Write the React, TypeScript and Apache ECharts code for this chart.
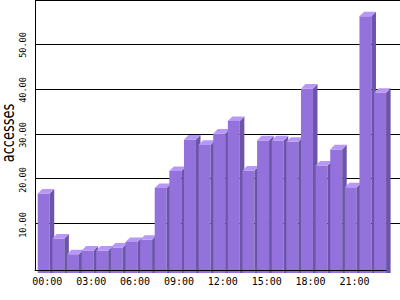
import React, { useEffect, useRef } from "react";
import * as echarts from "echarts";

const hours = [
  "00:00", "01:00", "02:00", "03:00", "04:00", "05:00", "06:00", "07:00",
  "08:00", "09:00", "10:00", "11:00", "12:00", "13:00", "14:00", "15:00",
  "16:00", "17:00", "18:00", "19:00", "20:00", "21:00", "22:00", "23:00",
];
const accesses = [
  17, 7, 3.5, 4.3, 4.3, 5, 6.2, 6.7,
  18.2, 22, 29, 27.8, 30.3, 33.1, 22.1, 28.8,
  28.8, 28.5, 40.3, 23.2, 26.8, 18.4, 56.4, 39.4,
];
const yTitle = "accesses";

const FRONT = "#9372DC";
const SIDE = "#6C55A8";
const TOP = "#B898F6";

export default function App() {
  const ref = useRef<HTMLDivElement>(null);
  useEffect(() => {
    if (!ref.current) return;
    document.body.style.margin = "0";
    const chart = echarts.init(ref.current, null, { renderer: "svg" });
    const mono = '"DejaVu Sans Mono", monospace';
    chart.setOption({
      animation: false,
      grid: [
        { left: 35, top: -12, width: 351, height: 282 },
        { left: 35, top: -12, width: 365, height: 235 },
      ],
      xAxis: [
        {
          type: "category",
          gridIndex: 0,
          data: hours,
          z: 5,
          axisLine: { show: true, lineStyle: { color: "#000", width: 1 } },
          axisTick: { show: false },
          axisLabel: {
            interval: 2,
            color: "#000",
            fontFamily: mono,
            fontSize: 10,
            margin: 6,
            padding: [0, 0, 0, 10],
          },
          splitLine: { show: false },
        },
        { type: "category", gridIndex: 1, data: hours, show: false },
      ],
      yAxis: [
        {
          type: "value",
          gridIndex: 0,
          min: 0,
          max: 60,
          interval: 10,
          axisLine: { show: true, lineStyle: { color: "#000", width: 1 } },
          axisTick: { show: false },
          splitLine: { show: false },
          axisLabel: {
            rotate: 90,
            margin: 8,
            color: "#000",
            fontFamily: mono,
            fontSize: 8.5,
            showMinLabel: false,
            showMaxLabel: false,
            formatter: (v: number) => v.toFixed(2),
          },
        },
        {
          type: "value",
          gridIndex: 1,
          min: 10,
          max: 60,
          interval: 10,
          axisLine: { show: false },
          axisTick: { show: false },
          axisLabel: { show: false },
          splitLine: { show: true, lineStyle: { color: "#000", width: 1 } },
        },
      ],
      graphic: [
        {
          type: "text",
          x: 8,
          y: 133,
          rotation: Math.PI / 2,
          scaleY: 1.4,
          style: {
            text: yTitle,
            font: '13px "DejaVu Sans", sans-serif',
            fill: "#000",
            textAlign: "center",
            textVerticalAlign: "middle",
            align: "center",
            verticalAlign: "middle",
          },
        },
      ],
      series: [
        {
          type: "custom",
          xAxisIndex: 0,
          yAxisIndex: 0,
          data: accesses.map((v, i) => [i, v]),
          encode: { x: 0, y: 1 },
          renderItem: (params: any, api: any) => {
            const idx = api.value(0);
            const val = api.value(1);
            const top = api.coord([idx, val]);
            const base = api.coord([idx, 0]);
            const bw = api.size([1, 0])[0];
            const w = bw * 0.82;
            const d = bw * 0.31;
            const x0 = top[0] - bw / 2 + bw * 0.185;
            const yT = top[1];
            const yB = base[1] + 3;
            return {
              type: "group",
              children: [
                {
                  type: "rect",
                  shape: { x: x0, y: yT, width: w, height: yB - yT },
                  style: { fill: FRONT },
                },
                {
                  type: "polygon",
                  shape: {
                    points: [
                      [x0 + w, yT],
                      [x0 + w + d, yT - d],
                      [x0 + w + d, yB],
                      [x0 + w, yB],
                    ],
                  },
                  style: { fill: SIDE },
                },
                {
                  type: "polygon",
                  shape: {
                    points: [
                      [x0, yT],
                      [x0 + w, yT],
                      [x0 + w + d, yT - d],
                      [x0 + d, yT - d],
                    ],
                  },
                  style: { fill: TOP },
                },
              ],
            };
          },
        },
      ],
    });
    return () => chart.dispose();
  }, []);
  return <div ref={ref} style={{ width: 400, height: 300 }} />;
}
